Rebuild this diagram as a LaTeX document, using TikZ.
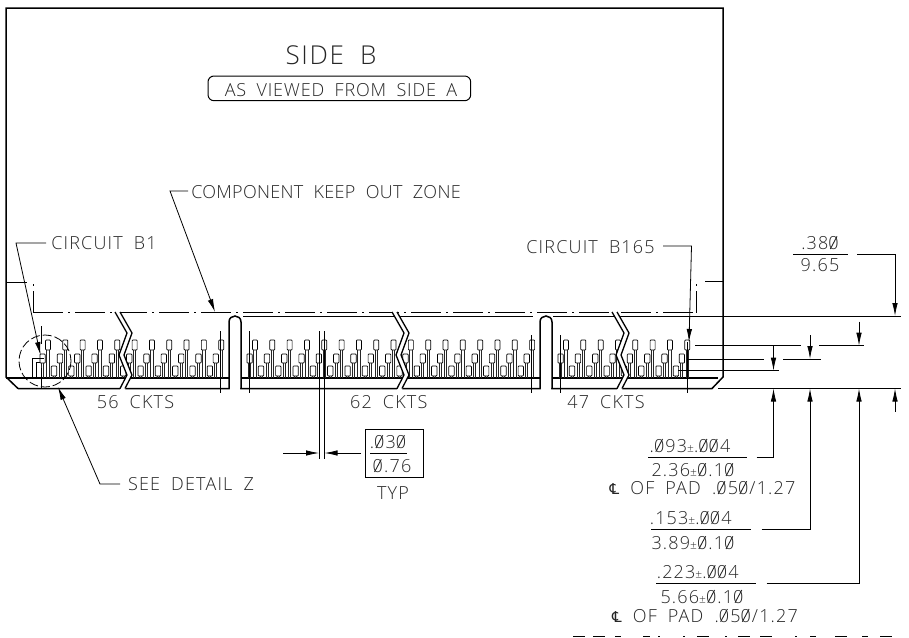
\documentclass[tikz,border=0pt]{standalone}
\usepackage{fontspec}
\usepackage{graphicx}
\usetikzlibrary{arrows.meta}
\newfontfamily\cadfont{Open Sans}[UprightFont=* Light,LetterSpace=6.5,WordSpace=1.9]
\newfontfamily\cadmid{Open Sans}[UprightFont=* Light,LetterSpace=4.5,WordSpace=1.9]
\newfontfamily\cadtight{Open Sans}[UprightFont=* Light,LetterSpace=1.6,WordSpace=2.1]
\newfontfamily\symfont{DejaVu Sans}
\newcommand{\zr}{\makebox[0pt][l]{\kern.08em\raisebox{.03em}{\rotatebox{62}{\rule{.8em}{.05em}}}}0}
\newcommand{\cl}{{\symfont\fontsize{15}{15}\selectfont\char"2104}}
\newcommand{\pmt}{{\fontsize{12}{12}\selectfont\char"00B1}}
\newcommand{\padrow}[3]{%
  \foreach \i in {0,...,#2} {
    \pgfmathsetmacro{\xt}{#1+17.32*\i}
    \pgfmathsetmacro{\xm}{\xt-5.4}
    \draw[pad] (\xt-2.5,340) rectangle (\xt+2.5,350);
    \draw[pin] (\xt-1.2,350) -- (\xt-1.2,378) (\xt+1.2,350) -- (\xt+1.2,378);
    \draw[pad] (\xm-2.7,354) rectangle (\xm+2.7,363);
    \draw[pin] (\xm-1,363) -- (\xm-1,378) (\xm+1,363) -- (\xm+1,378);
  }
  \foreach \i in {0,...,#3} {
    \pgfmathsetmacro{\xb}{#1+6+17.32*\i}
    \draw[pad] (\xb-2.7,366) rectangle (\xb+2.7,376);
    \draw[pin] (\xb-1,376) -- (\xb-1,378) (\xb+1,376) -- (\xb+1,378);
  }
}
\tikzset{
  outline/.style={line width=1.5pt},
  thin line/.style={line width=.8pt},
  pad/.style={line width=.7pt,rounded corners=.8pt},
  pin/.style={line width=.8pt,black!85},
  dimarrow/.style={line width=.8pt,-{Latex[length=13pt,width=5.5pt]}},
  lbl/.style={font=\cadfont\fontsize{18}{18}\selectfont,inner sep=0pt},
}
\begin{document}
\begin{tikzpicture}[x=1pt,y=-1pt,lbl/.append style={text=black!85}]
\useasboundingbox (0,0) rectangle (909,637);
% card body
\draw[outline] (18,388.5) -- (6,377) -- (6,8) -- (723,8) -- (723,377) -- (712,388.5) -- (18,388.5);
\fill[white] (229.8,317) rectangle (240.2,390) (540.8,317) rectangle (551.2,390);
\draw[outline] (229,388.5) -- (229,322) .. controls (229,314) and (241,314) .. (241,322) -- (241,388.5);
\draw[outline] (540,388.5) -- (540,322) .. controls (540,314) and (552,314) .. (552,322) -- (552,388.5);
\draw[outline] (6,378) -- (229,378) (241,378) -- (540,378) (552,378) -- (718,378);
% keep out zone
\draw[thin line,dash pattern=on 30pt off 5pt on 2pt off 5pt] (33,312.5) -- (696,312.5);
\draw[thin line,dash pattern=on 22pt off 5pt on 2pt off 5pt] (33,312.5) -- (33,282);
\draw[thin line,dash pattern=on 22pt off 5pt on 2pt off 5pt] (696,312.5) -- (696,282);
\draw[thin line] (6,282) -- (27,282) (705,281) -- (723,281);
\draw[thin line] (243,316) -- (533,316) (553,316) -- (901,316);
% contact fingers
\padrow{48}{10}{9}
\padrow{255}{16}{15}
\padrow{566}{7}{6}
\draw[line width=1pt] (32,378) -- (32,358) -- (44,358) (36,378) -- (36,362) -- (40,362);
% card breaks
\foreach \dx in {0,277,497} {
  \fill[white] (\dx+115,311) -- (\dx+127,333) -- (\dx+119,355) -- (\dx+127,375) -- (\dx+120,390)
    -- (\dx+125,390) -- (\dx+132,375) -- (\dx+124,355) -- (\dx+132,333) -- (\dx+120,311) -- cycle;
  \draw[line width=1.3pt] (\dx+115,312) -- (\dx+127,333) -- (\dx+119,355) -- (\dx+127,375) -- (\dx+120,388.5);
  \draw[line width=1.3pt] (\dx+120,312) -- (\dx+132,333) -- (\dx+124,355) -- (\dx+132,375) -- (\dx+125,388.5);
}
% centre lines
\draw[thin line] (41.7,326) -- (41.7,344) (41.7,368) -- (41.7,388);
\draw[thin line] (220.7,331) -- (220.7,393) (249,331) -- (249,393) (531.7,335) -- (531.7,393)
  (560.7,335) -- (560.7,393) (687.3,342) -- (687.3,393);
\draw[thin line] (319,331) -- (319,459) (324.5,331) -- (324.5,459);
\draw[thin line,dashed,dash pattern=on 9pt off 3pt] (45,361) circle[radius=26];
% titles
\node[lbl,font=\cadfont\fontsize{26}{26}\selectfont] (sideb) at (331,55.5) {SIDE B};
\node[lbl,font=\cadmid\fontsize{18}{18}\selectfont] (viewed) at (341,90) {AS VIEWED FROM SIDE A};
\draw[line width=1pt,rounded corners=6pt] (208,76) rectangle (470.7,100.7);
% leaders
\node[lbl] (bone) at (104,243) {CIRCUIT B1};
\node[lbl,font=\cadtight\fontsize{18}{18}\selectfont] (zone) at (326,192.5) {COMPONENT KEEP OUT ZONE};
\node[lbl] (blast) at (590.5,247) {CIRCUIT B165};
\node[lbl] (detail) at (191,484) {SEE DETAIL Z};
\coordinate (bonek) at (16,243);
\coordinate (bonetip) at (40.5,355);
\coordinate (zonek) at (170,191);
\coordinate (zonetip) at (215,312);
\coordinate (blastk) at (691.5,246);
\coordinate (blasttip) at (689,342);
\coordinate (detailk) at (100,484);
\coordinate (detailtip) at (58,387);
\draw[dimarrow] (46,243) -- (bonek) -- (bonetip);
\draw[dimarrow] (188,191) -- (zonek) -- (zonetip);
\draw[dimarrow] (663,246) -- (blastk) -- (blasttip);
\draw[dimarrow] (120,484) -- (detailk) -- (detailtip);
\node[lbl] (ckta) at (135.5,402.5) {56 CKTS};
\node[lbl] (cktb) at (388.7,402) {62 CKTS};
\node[lbl] (cktc) at (606,402) {47 CKTS};
% pad width
\draw[dimarrow] (283,453) -- (319,453);
\draw[dimarrow] (361,453) -- (324.5,453);
\draw[line width=.9pt] (365,429) rectangle (423.3,477);
\draw[thin line] (370,453) -- (406.7,453);
\node[lbl] (wa) at (388,442) {.\zr3\zr};
\node[lbl] (wb) at (392,466) {\zr.76};
\node[lbl] (typ) at (393,492.7) {TYP};
% right hand dimensions
\draw[thin line] (695,345.7) -- (801,345.7) (819,345.7) -- (864,345.7);
\draw[line width=.9pt] (688,359) -- (764,359) (783,359) -- (820.7,359);
\draw[thin line] (678,370.7) -- (779,370.7);
\draw[line width=1.3pt] (718,388.5) -- (760,388.5);
\draw[thin line] (760,388.5) -- (901,388.5);
\draw[dimarrow] (773.5,346) -- (773.5,370.7);
\draw[dimarrow] (810,335) -- (810,359);
\draw[dimarrow] (859,321.7) -- (859,345.7);
\draw[thin line] (857,254) -- (895,254);
\draw[dimarrow] (895,254) -- (895,316);
\draw[dimarrow] (895,411.7) -- (895,388.5);
\draw[dimarrow] (756.7,457.7) -- (773.5,457.7) -- (773.5,388.5);
\draw[dimarrow] (761.7,529.7) -- (810,529.7) -- (810,388.5);
\draw[dimarrow] (766.7,583.7) -- (859,583.7) -- (859,388.5);
\draw[thin line] (793,254) -- (847.7,254) (648,457.7) -- (746.7,457.7)
  (651,529.7) -- (751,529.7) (656,583.7) -- (756,583.7);
\node[lbl] (da) at (820,243) {.38\zr};
\node[lbl] (db) at (820,265.5) {9.65};
\node[lbl] (dc) at (690,445.7) {.\zr93\pmt.\zr\zr4};
\node[lbl] (dd) at (693,470) {2.36\pmt\zr.1\zr};
\node[lbl] (de) at (702.5,488) {\cl{} OF PAD .\zr5\zr/1.27};
\node[lbl] (df) at (690.7,518) {.153\pmt.\zr\zr4};
\node[lbl] (dg) at (693,543) {3.89\pmt\zr.1\zr};
\node[lbl] (dh) at (697.7,572) {.223\pmt.\zr\zr4};
\node[lbl] (di) at (702,596.7) {5.66\pmt\zr.1\zr};
\node[lbl] (dj) at (705,615.7) {\cl{} OF PAD .\zr5\zr/1.27};
% clipped tops of the line below
\foreach \xa/\xb in {573/585,593/605,615/621,643/650,658/660,683/685,697/709,725/727,738/750,760/772,795/797,810/816,835/847,862/868,880/892}
  \draw[thin line] (\xa,636.3) -- (\xb,636.3);
\end{tikzpicture}
\end{document}
